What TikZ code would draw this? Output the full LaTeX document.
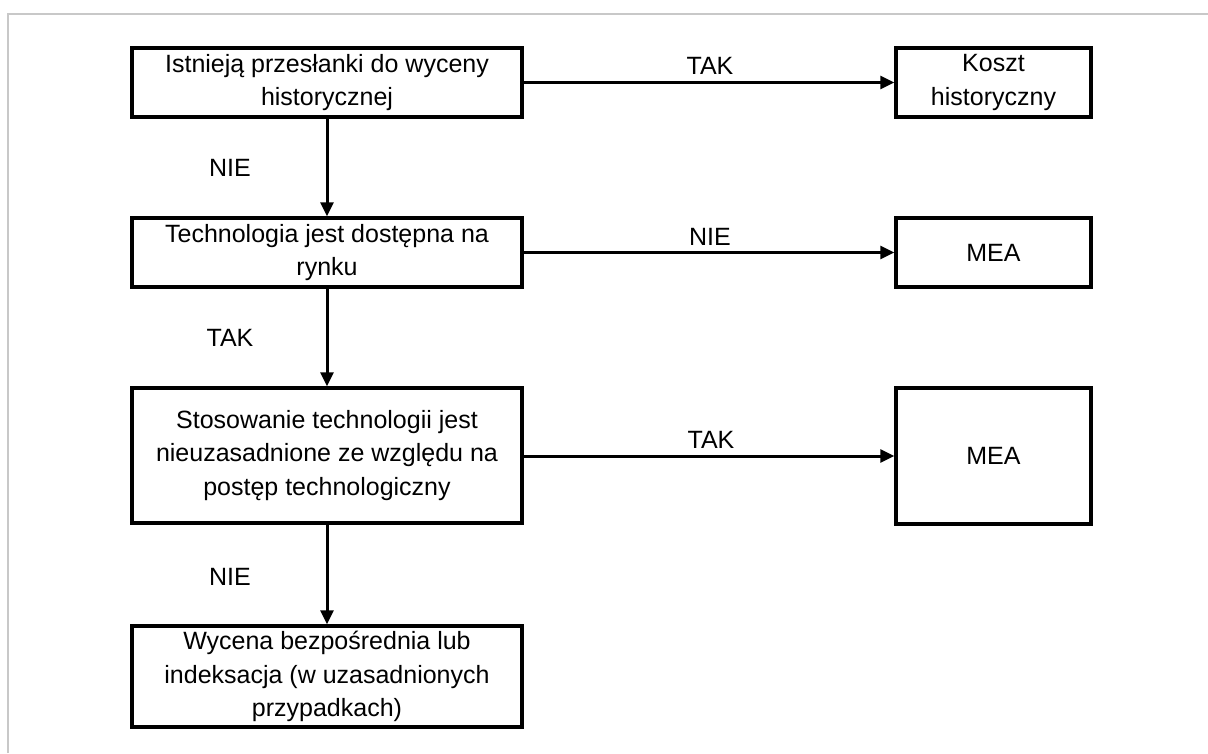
\documentclass[tikz,border=0pt]{standalone}
\usepackage{fontspec}
\setmainfont{Liberation Sans}
\usepackage{tikz}
\usetikzlibrary{arrows.meta, positioning}
\definecolor{ramka}{HTML}{C8C8C8}

\tikzset{
  pytanie/.style={draw=black, line width=3.5pt, fill=white, inner sep=0pt,
        minimum width=390pt, align=center, font=\fontsize{25}{33.5}\selectfont},
  wynik/.style={draw=black, line width=3.5pt, fill=white, inner sep=0pt,
        minimum width=195pt, align=center, font=\fontsize{25}{33.5}\selectfont},
  strzalka/.style={draw=black, line width=3pt, -{Triangle[length=14pt,width=13pt]}},
  etykieta/.style={inner sep=0pt, font=\fontsize{25}{30}\selectfont}
}

\begin{document}
\begin{tikzpicture}[x=1pt, y=-1pt]
  \useasboundingbox (0,0) rectangle (1208,753);
  % szara ramka zrzutu
  \draw[ramka, line width=1.5pt] (8,753) -- (8,14) -- (1208,14);

  % pytania
  \node[pytanie, minimum height=69pt] (istnieja) at (327,82.5)
    {Istnieją przesłanki do wyceny\\historycznej};
  \node[pytanie, minimum height=69pt] (technologia) at (327,252.5)
    {Technologia jest dostępna na\\rynku};
  \node[pytanie, minimum height=135pt] (stosowanie) at (327,455.5)
    {Stosowanie technologii jest\\nieuzasadnione ze względu na\\postęp technologiczny};
  \node[pytanie, minimum height=101pt] (wycena) at (327,676.5)
    {Wycena bezpośrednia lub\\indeksacja (w uzasadnionych\\przypadkach)};

  % wyniki
  \node[wynik, minimum height=69pt] (koszt) at (993.5,82.5) {Koszt\\historyczny};
  \node[wynik, minimum height=69pt] (mea1) at (993.5,252.5) {MEA};
  \node[wynik, minimum height=136pt] (mea2) at (993.5,456) {MEA};

  % strzalki
  \draw[strzalka] (istnieja) -- (koszt);
  \draw[strzalka] (technologia) -- (mea1);
  \draw[strzalka] (stosowanie.east |- mea2) -- (mea2);
  \draw[strzalka] (istnieja) -- (technologia);
  \draw[strzalka] (technologia) -- (stosowanie);
  \draw[strzalka] (stosowanie) -- (wycena);

  % etykiety
  \node[etykieta] (tak1) at (710,66) {TAK};
  \node[etykieta] (nie2) at (710,237) {NIE};
  \node[etykieta] (tak3) at (711,440) {TAK};
  \node[etykieta] (nie1) at (230,168) {NIE};
  \node[etykieta] (tak2) at (230,338) {TAK};
  \node[etykieta] (nie3) at (230,577) {NIE};
\end{tikzpicture}
\end{document}
